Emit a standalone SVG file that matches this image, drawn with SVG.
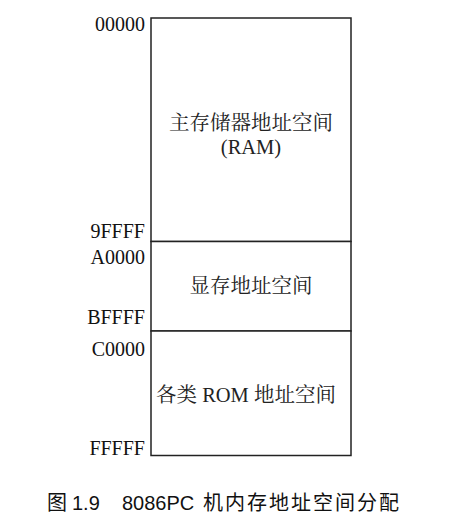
<svg xmlns="http://www.w3.org/2000/svg" width="465" height="525" viewBox="0 0 465 525">
<style>
.addr{font-family:"Liberation Serif","Noto Sans CJK SC",serif;font-size:20px;fill:#111;text-anchor:end}
.lbl{font-family:"Liberation Serif","Noto Serif CJK SC","Noto Sans CJK SC",serif;font-size:20.5px;fill:#222;text-anchor:middle}
.cap{font-family:"Liberation Sans","Noto Sans CJK SC",sans-serif;font-size:20px;fill:#111}
.box{fill:#fff;stroke:#222;stroke-width:1.5}
</style>
<rect width="465" height="525" fill="#fff"/>
<g id="ram">
<rect class="box" x="151" y="18" width="200" height="223.5"/>
<text class="lbl" x="251" y="130">主存储器地址空间</text>
<text class="lbl" x="251" y="154">(RAM)</text>
</g>
<g id="vram">
<rect class="box" x="151" y="241.5" width="200" height="89.5"/>
<text class="lbl" x="251" y="293">显存地址空间</text>
</g>
<g id="rom">
<rect class="box" x="151" y="331" width="200" height="124.5"/>
<text class="lbl" x="246" y="402">各类 ROM 地址空间</text>
</g>
<g id="addresses">
<text class="addr" x="145" y="31">00000</text>
<text class="addr" x="145" y="238">9FFFF</text>
<text class="addr" x="145" y="264">A0000</text>
<text class="addr" x="145" y="324">BFFFF</text>
<text class="addr" x="145" y="356">C0000</text>
<text class="addr" x="145" y="455">FFFFF</text>
</g>
<g id="connectors"></g>
<text class="cap" y="510"><tspan x="47">图</tspan><tspan x="72">1.9</tspan><tspan x="122">8086PC</tspan><tspan x="203" letter-spacing="2">机内存地址空间分配</tspan></text>
</svg>
